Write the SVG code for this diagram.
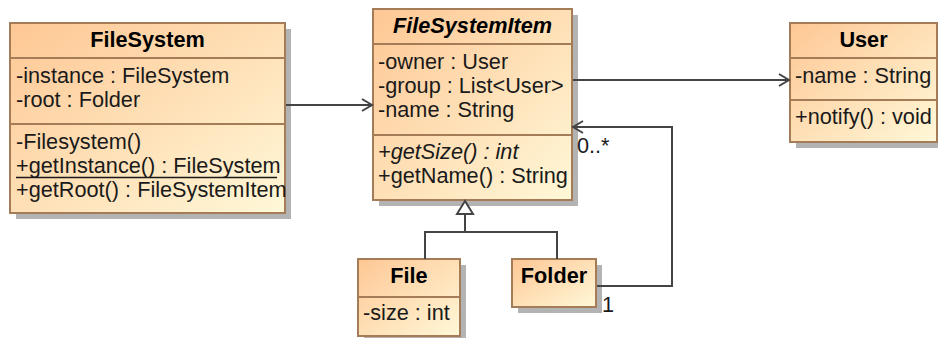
<svg xmlns="http://www.w3.org/2000/svg" width="938" height="338" viewBox="0 0 938 338">
<style>
text{font-family:"Liberation Sans",Arial,sans-serif;font-size:21.7px;fill:#1a1a1a}
.t{font-weight:bold;text-anchor:middle;fill:#000}
.it{font-style:italic}
.box{fill:url(#g);stroke:#a47c58;stroke-width:2}
.sh{fill:#b3b3b3}
.div{stroke:#a47c58;stroke-width:2}
.c{fill:none;stroke:#444;stroke-width:2}
</style>
<defs>
<linearGradient id="g" x1="0" y1="0" x2="1" y2="1">
<stop offset="0" stop-color="#fec794"/>
<stop offset="1" stop-color="#fff8d8"/>
</linearGradient>
<marker id="open" markerUnits="userSpaceOnUse" markerWidth="14" markerHeight="16" refX="11" refY="7" orient="auto">
<path d="M1,1 L11,7 L1,13" fill="none" stroke="#444" stroke-width="2"/>
</marker>
</defs>

<g id="FileSystem">
<rect class="sh" x="16" y="29" width="275" height="190"/>
<rect class="box" x="10" y="23" width="275" height="190"/>
<line class="div" x1="10" y1="58" x2="285" y2="58"/>
<line class="div" x1="10" y1="124" x2="285" y2="124"/>
<text class="t" x="147.5" y="47">FileSystem</text>
<text x="16" y="83">-instance : FileSystem</text>
<text x="16" y="107">-root : Folder</text>
<text x="16" y="149">-Filesystem()</text>
<text x="16" y="173">+getInstance() : FileSystem</text>
<line x1="16" y1="177.5" x2="277" y2="177.5" stroke="#1a1a1a" stroke-width="1.5"/>
<text x="16" y="197">+getRoot() : FileSystemItem</text>
</g>

<g id="FileSystemItem">
<rect class="sh" x="379" y="15" width="199" height="191"/>
<rect class="box" x="373" y="9" width="199" height="191"/>
<line class="div" x1="373" y1="44" x2="572" y2="44"/>
<line class="div" x1="373" y1="135" x2="572" y2="135"/>
<text class="t it" x="472.5" y="33">FileSystemItem</text>
<text x="378" y="69">-owner : User</text>
<text x="378" y="93">-group : List&lt;User&gt;</text>
<text x="378" y="117">-name : String</text>
<text class="it" x="378" y="159">+getSize() : int</text>
<text x="378" y="183">+getName() : String</text>
</g>

<g id="User">
<rect class="sh" x="796" y="29" width="148" height="119"/>
<rect class="box" x="790" y="23" width="147" height="119"/>
<line class="div" x1="790" y1="58" x2="937" y2="58"/>
<line class="div" x1="790" y1="100" x2="937" y2="100"/>
<text class="t" x="863.5" y="47">User</text>
<text x="795" y="83">-name : String</text>
<text x="795" y="124">+notify() : void</text>
</g>

<g id="File">
<rect class="sh" x="364" y="265" width="102" height="77"/>
<rect class="box" x="358" y="259" width="102" height="77"/>
<line class="div" x1="358" y1="297" x2="460" y2="297"/>
<text class="t" x="409" y="283">File</text>
<text x="363" y="320">-size : int</text>
</g>

<g id="Folder">
<rect class="sh" x="518" y="265" width="84" height="48"/>
<rect class="box" x="512" y="259" width="84" height="48"/>
<text class="t" x="554" y="283">Folder</text>
</g>

<g id="connectors">
<line class="c" x1="286" y1="105" x2="372" y2="105" marker-end="url(#open)"/>
<line class="c" x1="573" y1="80" x2="789" y2="80" marker-end="url(#open)"/>
<polyline class="c" points="597,286 672,286 672,127 573,127" marker-end="url(#open)"/>
<polyline class="c" points="425,259 425,232 557,232 557,259"/>
<line class="c" x1="465" y1="232" x2="465" y2="214"/>
<polygon points="465,201 457,214 473,214" fill="#fff" stroke="#444" stroke-width="2"/>
<text x="577" y="153">0..*</text>
<text x="602" y="312">1</text>
</g>
</svg>
